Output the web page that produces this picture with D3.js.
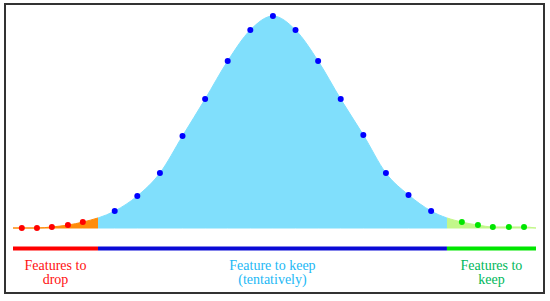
<!DOCTYPE html>
<html>
<head>
  <meta charset="utf-8">
  <style>
  body { margin: 0; background: #fff; }
  .lbl { font-family: "Liberation Serif", serif; font-size: 14px; }
  </style>
  <script src="https://d3js.org/d3.v7.min.js"></script>
</head>
<body>
<svg id="svg1"></svg>
<script>

// feature score (x) and relative importance density (y)
var dropX = [-11.11, -10.44, -9.78, -9.07, -8.41];
var dropY = [0.000, 0.000, 0.005, 0.014, 0.028];
var tentX = [-7, -6, -5, -4, -3, -2, -1, 0, 1, 2, 3, 4, 5, 6, 7];
var tentY = [0.080, 0.151, 0.259, 0.434, 0.608, 0.788, 0.934, 1.000, 0.934, 0.788, 0.608, 0.439, 0.259, 0.156, 0.080];
var keepX = [8.36, 9.07, 9.73, 10.44, 11.11];
var keepY = [0.028, 0.014, 0.005, 0.005, 0.005];

// axis ends and cut points between the groups
var cuts = [-11.5, -7.74, 7.70, 11.64];
var groupNames = ["drop", "tentative", "keep"];
var groupLabels = [["Features to", "drop"], ["Feature to keep", "(tentatively)"], ["Features to", "keep"]];

var width = 550, height = 301;

var svg = d3.select("#svg1")
    .attr("width", width)
    .attr("height", height);

var x = d3.scaleLinear().domain([cuts[0], cuts[3]]).range([13, 536]);
var y = d3.scaleLinear().domain([0, 1]).range([228, 16]);

var fillColor = ["#ff8c0a", "#80dffc", "#c2f78a"];
var dotColor = ["#ff0000", "#0000ff", "#00e600"];
var barColor = ["#ff0000", "#0a0ad6", "#00e600"];
var textColor = ["#ff1010", "#22b8f5", "#00b85a"];

var groups = [
  dropX.map(function(d, i) { return {x: d, y: dropY[i]}; }),
  tentX.map(function(d, i) { return {x: d, y: tentY[i]}; }),
  keepX.map(function(d, i) { return {x: d, y: keepY[i]}; })
];

var all = [{x: cuts[0], y: 0}].concat(groups[0], groups[1], groups[2], [{x: cuts[3], y: 0}]);

var area = d3.area()
    .curve(d3.curveMonotoneX)
    .x(function(d) { return x(d.x); })
    .y0(y(0))
    .y1(function(d) { return y(d.y); });

var defs = svg.append("defs");
groupNames.forEach(function(g, i) {
  defs.append("clipPath").attr("id", "clip-" + g)
    .append("rect")
      .attr("x", x(cuts[i]))
      .attr("y", 0)
      .attr("width", x(cuts[i + 1]) - x(cuts[i]))
      .attr("height", height);
});

// border
svg.append("rect")
    .attr("x", 5).attr("y", 4)
    .attr("width", 539).attr("height", 289)
    .attr("fill", "none")
    .attr("stroke", "#333")
    .attr("stroke-width", 2);

// shaded density, split in three
groupNames.forEach(function(g, i) {
  svg.append("path")
      .datum(all)
      .attr("clip-path", "url(#clip-" + g + ")")
      .attr("fill", fillColor[i])
      .attr("stroke", fillColor[i])
      .attr("stroke-width", 1)
      .attr("d", area);
});

// dots
groups.forEach(function(pts, i) {
  svg.append("g").selectAll("circle")
      .data(pts)
    .enter().append("circle")
      .attr("cx", function(d) { return x(d.x); })
      .attr("cy", function(d) { return y(d.y); })
      .attr("r", 3)
      .attr("fill", dotColor[i]);
});

// group bar under the curve
groupNames.forEach(function(g, i) {
  svg.append("line")
      .attr("x1", x(cuts[i]))
      .attr("x2", x(cuts[i + 1]))
      .attr("y1", 248.5)
      .attr("y2", 248.5)
      .attr("stroke", barColor[i])
      .attr("stroke-width", 4);
});

// labels
groupLabels.forEach(function(lines, i) {
  var cx = (x(cuts[i]) + x(cuts[i + 1])) / 2;
  var t = svg.append("text")
      .attr("class", "lbl")
      .attr("text-anchor", "middle")
      .attr("fill", textColor[i]);
  lines.forEach(function(s, j) {
    t.append("tspan")
        .attr("x", cx)
        .attr("y", 270 + j * 14)
        .text(s);
  });
});

</script>
</body>
</html>
